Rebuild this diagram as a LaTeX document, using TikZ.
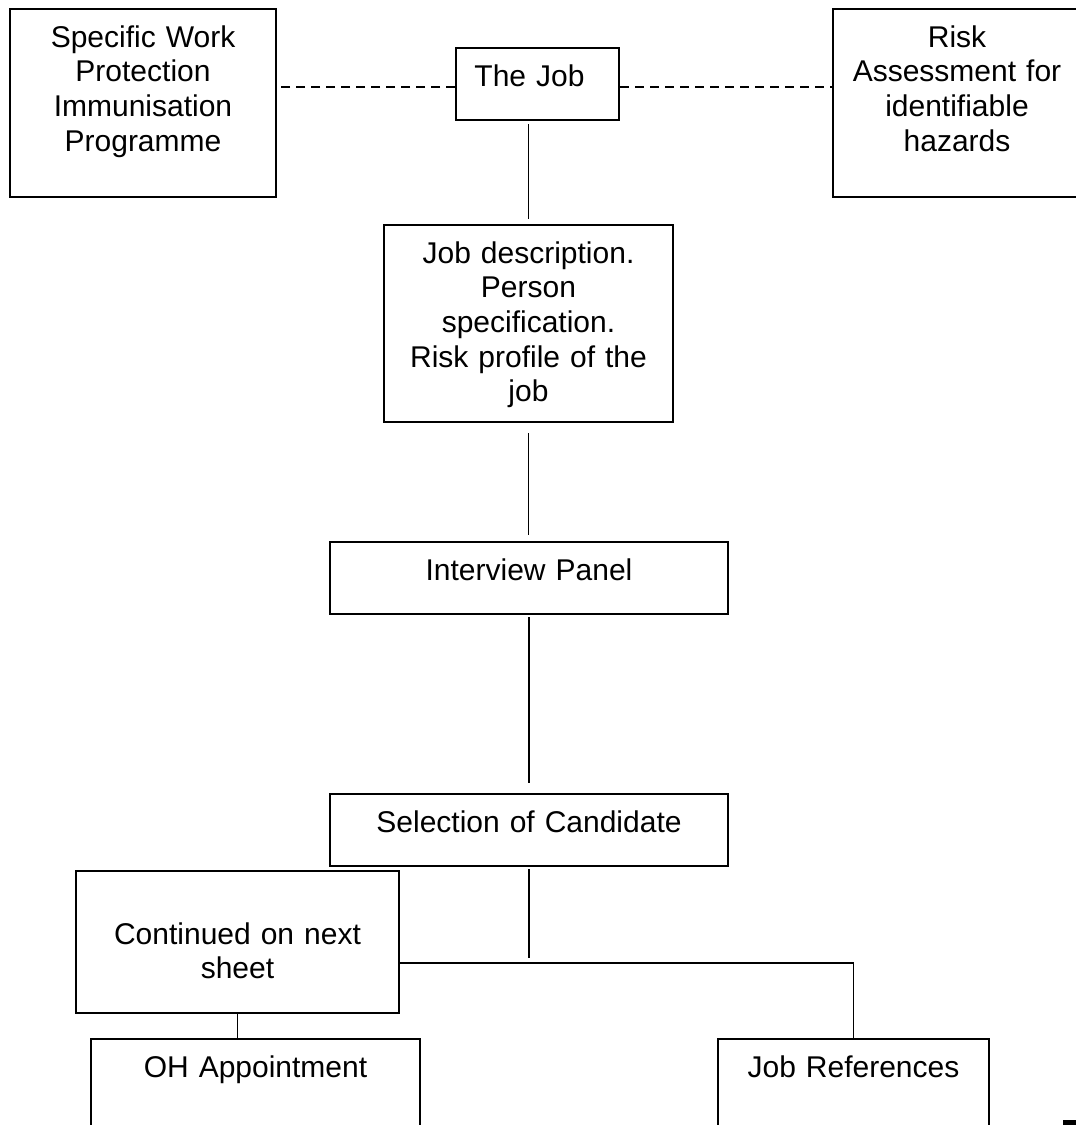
\documentclass[tikz,border=0pt]{standalone}
\usepackage{fontspec}
\setmainfont{Liberation Sans}
\usetikzlibrary{positioning,calc}

\begin{document}
\begin{tikzpicture}[
    x=1pt, y=-1pt,
    box/.style={draw, line width=2pt, inner sep=0pt, anchor=north west, align=center, text height=38pt, font=\fontsize{30pt}{34.7pt}\selectfont},
    link/.style={line width=1.8pt},
    dashlink/.style={line width=1.8pt, dash pattern=on 9pt off 6pt}
]
    \useasboundingbox (0,0) rectangle (1076,1125);

    % Top row
    \node[box, text width=266pt, text depth=150pt] (swp) at (9,8) {Specific Work\\Protection\\Immunisation\\Programme};
    \node[box, text width=163pt, text depth=34pt] (job) at (455,47) {The Job\makebox[16pt]{}};
    \node[box, text width=248pt, text depth=150pt] (risk) at (832,8) {Risk\\Assessment for\\identifiable\\hazards};
    \draw[dashlink] ([yshift=-3pt]job.west) -- ([yshift=-3pt]job.west -| swp.east);
    \draw[dashlink] ([yshift=-3pt]job.east) -- ([yshift=-3pt]job.east -| risk.west);

    % Middle column
    \node[box, text width=289pt, text depth=159pt] (desc) at (383,224) {Job description.\\Person\\specification.\\Risk profile of the\\job};
    \node[box, text width=398pt, text depth=34pt] (panel) at (329,541) {Interview Panel};
    \node[box, text width=398pt, text depth=34pt] (select) at (329,793) {Selection of Candidate};
    \draw[link, shorten <=3pt, shorten >=5pt] (desc.north |- job.south) -- (desc.north);
    \draw[link, shorten <=10pt, shorten >=6pt] (desc.south) -- (desc.south |- panel.north);
    \draw[link, shorten <=2pt, shorten >=10pt] (panel.south) -- (panel.south |- select.north);

    % Bottom row
    \node[box, text width=323pt, text height=73pt, text depth=69pt] (cont) at (75,870) {Continued on next\\sheet};
    \node[box, text width=329pt, text depth=82pt] (oh) at (90,1038) {OH Appointment};
    \node[box, text width=271pt, text depth=82pt] (refs) at (717,1038) {Job References};
    \coordinate (split) at (select.south |- 0,963);
    \draw[link, shorten <=2pt, shorten >=5pt] (select.south) -- (split);
    \draw[link] (split -| cont.east) -| (refs.north);
    \draw[link] (cont.south) -- (cont.south |- oh.north);

    % Page mark
    \fill (1063,1120) rectangle (1080,1130);
\end{tikzpicture}
\end{document}
